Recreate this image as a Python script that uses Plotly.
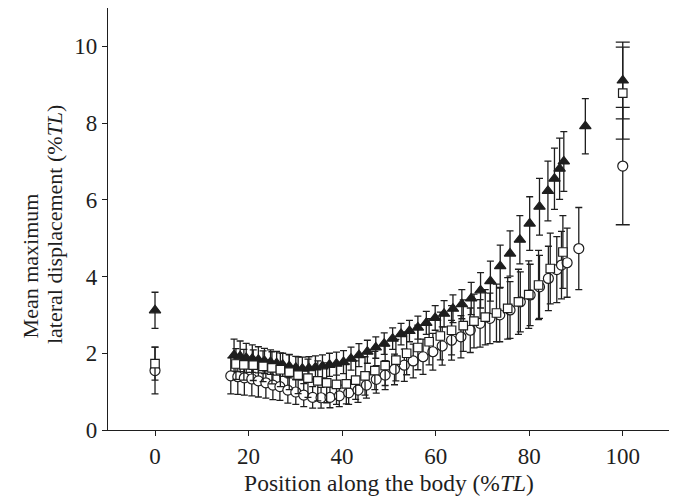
import plotly.graph_objects as go

# ---- data ----
tri_x = [0, 16.9, 18.2, 19.5, 20.8, 22.1, 23.4, 24.7, 26.0, 27.3, 28.7,
         30.1, 31.5, 32.9, 34.3, 35.8, 37.3, 38.8, 40.3, 41.9, 43.6,
         45.4, 47.2, 49.0, 50.8, 52.6, 54.4, 56.2, 58.0, 59.9, 61.8,
         63.7, 65.6, 67.6, 69.6, 71.7, 73.8, 75.9, 78.0, 80.1, 82.2,
         84.0, 85.4, 86.5, 87.4, 92.0, 100]
tri_y = [3.12, 1.95, 1.92, 1.88, 1.86, 1.83, 1.80, 1.77, 1.74, 1.70, 1.66,
         1.62, 1.60, 1.61, 1.63, 1.66, 1.70, 1.73, 1.77, 1.86, 1.95,
         2.04, 2.15, 2.25, 2.38, 2.50, 2.58, 2.67, 2.79, 2.92, 3.03,
         3.16, 3.28, 3.43, 3.64, 3.88, 4.27, 4.60, 4.96, 5.38, 5.82,
         6.23, 6.55, 6.81, 7.00, 7.92, 9.11]
tri_err = [0.47, 0.42, 0.40, 0.38, 0.36, 0.34, 0.33, 0.32, 0.31, 0.30, 0.30,
           0.30, 0.30, 0.30, 0.30, 0.30, 0.30, 0.30, 0.30, 0.30, 0.30,
           0.30, 0.28, 0.28, 0.28, 0.28, 0.28, 0.30, 0.30, 0.32, 0.34,
           0.36, 0.38, 0.42, 0.46, 0.52, 0.55, 0.59, 0.63, 0.70, 0.74,
           0.78, 0.80, 0.80, 0.78, 0.72, 1.00]

sq_x = [0, 17.3, 19.0, 21.0, 23.1, 25.0, 26.8, 28.7, 30.6, 32.7, 34.8,
        36.7, 38.8, 40.9, 42.9, 44.9, 47.0, 49.2, 51.5, 53.8, 56.2,
        58.6, 61.0, 63.4, 65.9, 68.2, 70.6, 73.0, 75.4, 77.7, 79.9,
        82.0, 84.5, 87.2, 100]
sq_y = [1.73, 1.72, 1.70, 1.69, 1.66, 1.62, 1.57, 1.51, 1.43, 1.35, 1.28,
        1.23, 1.19, 1.20, 1.30, 1.41, 1.55, 1.68, 1.82, 2.00, 2.15,
        2.30, 2.45, 2.60, 2.72, 2.84, 2.94, 3.05, 3.17, 3.34, 3.53,
        3.78, 4.21, 4.64, 8.78]
sq_err = [0.43, 0.40, 0.40, 0.40, 0.40, 0.42, 0.44, 0.46, 0.48, 0.50, 0.52,
          0.52, 0.52, 0.52, 0.50, 0.50, 0.50, 0.52, 0.54, 0.56, 0.58,
          0.60, 0.62, 0.64, 0.67, 0.70, 0.72, 0.75, 0.80, 0.85, 0.88,
          0.90, 0.92, 0.95, 1.20]

ci_x = [0, 16.2, 17.7, 19.1, 20.7, 22.1, 23.7, 25.2, 26.7, 28.4,
        30.1, 31.8, 33.7, 35.5, 37.4, 39.4, 41.4, 43.4, 45.2, 47.3,
        49.2, 51.2, 53.3, 55.2, 57.3, 59.4, 61.4, 63.4, 65.4, 67.4,
        69.5, 71.6, 73.7, 75.9, 78.1, 80.2, 82.2, 84.1, 85.9, 86.9, 88.1,
        90.6, 100]
ci_y = [1.55, 1.41, 1.39, 1.36, 1.33, 1.28, 1.23, 1.17, 1.13, 1.04,
        0.99, 0.91, 0.85, 0.84, 0.85, 0.89, 0.97, 1.04, 1.17, 1.32,
        1.43, 1.58, 1.69, 1.80, 1.91, 2.04, 2.19, 2.34, 2.43, 2.60,
        2.78, 2.91, 3.00, 3.13, 3.34, 3.52, 3.73, 3.95, 4.18, 4.30, 4.36,
        4.73, 6.88]
ci_err = [0.61, 0.47, 0.46, 0.45, 0.44, 0.42, 0.40, 0.38, 0.36, 0.34,
          0.32, 0.30, 0.28, 0.27, 0.27, 0.28, 0.30, 0.32, 0.34, 0.36,
          0.38, 0.40, 0.42, 0.44, 0.46, 0.48, 0.50, 0.52, 0.55, 0.58,
          0.62, 0.66, 0.70, 0.74, 0.78, 0.80, 0.82, 0.84, 0.86, 0.88, 0.90,
          1.07, 1.53]

x_ticks = [0, 20, 40, 60, 80, 100]
y_ticks = [0, 2, 4, 6, 8, 10]

INK = "#1e1e1e"
FONT = "Liberation Serif"

fig = go.Figure()


def add_series(xs, ys, errs, symbol, fill, size):
    # main body of points (small caps) and the final point at 100 (wide caps)
    for sl, capw in ((slice(0, -1), 3.5), (slice(-1, None), 7)):
        fig.add_trace(go.Scatter(
            x=xs[sl], y=ys[sl], mode="markers",
            marker=dict(symbol=symbol, size=size, color=fill,
                        line=dict(color=INK, width=1.2)),
            error_y=dict(type="data", array=errs[sl], visible=True,
                         color=INK, thickness=1.3, width=capw),
            showlegend=False, cliponaxis=False))


add_series(tri_x, tri_y, tri_err, "triangle-up", INK, 10)
add_series(ci_x, ci_y, ci_err, "circle", "white", 10)
add_series(sq_x, sq_y, sq_err, "square", "white", 8.5)

# the page body has an 8 px margin, so the figure is sized to fit inside it
fig.update_layout(
    width=669, height=490,
    margin=dict(l=100, r=7, t=0, b=68),
    paper_bgcolor="white", plot_bgcolor="white",
    font=dict(family=FONT, size=23, color=INK),
    xaxis=dict(range=[-10.05, 110.1], tickvals=x_ticks,
               ticks="outside", ticklen=5, tickwidth=1.3, tickcolor=INK,
               showline=True, linecolor=INK, linewidth=1.3,
               showgrid=False, zeroline=False,
               tickfont=dict(size=23),
               title=dict(text="Position along the body (%<i>TL</i>)",
                          font=dict(size=23.5), standoff=6)),
    yaxis=dict(range=[0, 11], tickvals=y_ticks,
               ticks="outside", ticklen=5, tickwidth=1.3, tickcolor=INK,
               showline=True, linecolor=INK, linewidth=1.3,
               showgrid=False, zeroline=False,
               tickfont=dict(size=23)),
    annotations=[
        dict(text="Mean maximum", textangle=-90, showarrow=False,
             xref="paper", yref="paper", x=-0.1388, y=0.39,
             xanchor="center", yanchor="middle", font=dict(size=22)),
        dict(text="lateral displacement (%<i>TL</i>)", textangle=-90,
             showarrow=False, xref="paper", yref="paper", x=-0.0961, y=0.488,
             xanchor="center", yanchor="middle", font=dict(size=22)),
    ],
)

fig.write_html("out.html")
